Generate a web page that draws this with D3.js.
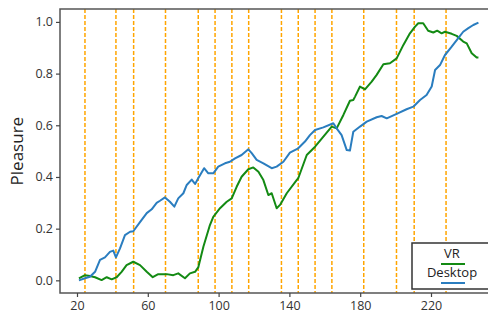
<!DOCTYPE html>
<html>
<head>
<meta charset="utf-8">
<script src="https://cdn.jsdelivr.net/npm/d3@7"></script>
<style>
  body { margin: 0; background: #fff; }
  svg { display: block; font-family: "Open Sans", sans-serif; }
</style>
</head>
<body>
<div id="chart"></div>
<script>
"use strict";

// values
const desktopX = [21.1, 24.5, 27.3, 30.2, 33, 35.8, 38.6, 40.5, 42, 44.3, 47.1, 50, 51.8, 55.8, 59.4, 62.2, 65, 66.9, 69.7, 72.5, 75, 77.2, 80.1, 82, 84.8, 86.7, 88.5, 91.8, 94.2, 97, 99.8, 103.6, 106.4, 109.3, 113, 116.8, 118.7, 121.5, 125.3, 130, 132.8, 136.6, 140.3, 145, 148.8, 151.6, 154.5, 159.2, 164.8, 166.7, 169.5, 172.4, 174.2, 176.1, 179.9, 183.7, 189.3, 192.1, 195, 200.6, 206.2, 210, 213.8, 217.5, 220.4, 222.3, 225.1, 227.9, 231.7, 235.4, 238.2, 241.1, 243.9, 246.8];
const desktopY = [0.0, 0.008, 0.014, 0.033, 0.079, 0.089, 0.11, 0.115, 0.089, 0.124, 0.175, 0.188, 0.19, 0.227, 0.26, 0.275, 0.30, 0.308, 0.321, 0.304, 0.285, 0.317, 0.337, 0.369, 0.39, 0.373, 0.395, 0.434, 0.414, 0.414, 0.44, 0.453, 0.459, 0.472, 0.485, 0.507, 0.492, 0.466, 0.453, 0.434, 0.44, 0.459, 0.494, 0.511, 0.537, 0.562, 0.582, 0.592, 0.608, 0.588, 0.562, 0.504, 0.502, 0.575, 0.595, 0.614, 0.631, 0.636, 0.627, 0.644, 0.662, 0.672, 0.698, 0.717, 0.75, 0.814, 0.833, 0.872, 0.904, 0.937, 0.962, 0.976, 0.988, 0.997];

const vrX = [21.1, 24.5, 27.3, 30.2, 33.9, 36.8, 39.6, 42.4, 45.2, 48, 51.8, 55.6, 59.4, 62.8, 65.9, 70.7, 74.4, 77.2, 81, 83.8, 86.7, 88.5, 91.4, 95.1, 97, 100.8, 104.6, 107.4, 110.2, 113, 116.8, 119.6, 122.5, 125.3, 128.1, 130, 132.8, 134.7, 138.5, 144.1, 145, 149.8, 154.5, 159.2, 163.9, 166.7, 170.5, 174.2, 176.1, 177.1, 179.9, 182.7, 186.5, 189.3, 193.1, 196.8, 200.6, 204.4, 208.1, 211, 212.8, 215.6, 218.4, 221.3, 223.5, 226, 227.9, 231.7, 234.5, 238.2, 240.2, 243, 245.8, 246.8];
const vrY = [0.008, 0.02, 0.017, 0.012, 0.001, 0.012, 0.004, 0.012, 0.033, 0.059, 0.072, 0.059, 0.033, 0.012, 0.024, 0.024, 0.02, 0.027, 0.008, 0.027, 0.033, 0.05, 0.13, 0.214, 0.246, 0.279, 0.304, 0.317, 0.362, 0.401, 0.43, 0.437, 0.42, 0.388, 0.33, 0.337, 0.279, 0.292, 0.337, 0.388, 0.395, 0.485, 0.517, 0.556, 0.595, 0.588, 0.64, 0.695, 0.698, 0.711, 0.75, 0.739, 0.769, 0.795, 0.836, 0.84, 0.859, 0.911, 0.956, 0.982, 0.995, 0.995, 0.966, 0.959, 0.966, 0.956, 0.962, 0.954, 0.946, 0.924, 0.917, 0.879, 0.862, 0.862];

const eventX = [24.5, 42, 52, 70, 88.5, 98, 107.5, 117, 135.5, 145, 154.5, 164, 182, 200.5, 210.5, 228.5];

const xTicks = [20, 60, 100, 140, 180, 220];
const yTicks = [0.0, 0.2, 0.4, 0.6, 0.8, 1.0];

const seriesNames = ["VR", "Desktop"];
const seriesColors = ["#138a13", "#2a7dbf"];

const width = 488, height = 313;
const margin = { left: 60, top: 9, right: -6, bottom: 20 };
const plotW = width - margin.left - margin.right;
const plotH = height - margin.top - margin.bottom;

const svg = d3.select("#chart").append("svg")
    .attr("width", width)
    .attr("height", height);

// axes scales, pixel fit: 20 -> 77, 220 -> 431
const x = d3.scaleLinear()
    .domain([20 + (margin.left - 77) / 1.77, 20 + (margin.left + plotW - 77) / 1.77])
    .range([margin.left, margin.left + plotW]);
const y = d3.scaleLinear()
    .domain([-0.049, 1.05])
    .range([margin.top + plotH, margin.top]);

const g = svg.append("g");

// event lines
g.selectAll("line.event")
    .data(eventX)
    .enter()
    .append("line")
    .attr("class", "event")
    .attr("x1", d => x(d)).attr("x2", d => x(d))
    .attr("y1", margin.top).attr("y2", margin.top + plotH)
    .style("stroke", "#ffa500")
    .style("stroke-width", 1.5)
    .style("stroke-dasharray", "4,2");

const line = d3.line().x(d => x(d[0])).y(d => y(d[1]));

const series = [
    d3.zip(vrX, vrY),
    d3.zip(desktopX, desktopY)
];

g.selectAll("path.series")
    .data(series)
    .enter()
    .append("path")
    .attr("class", "series")
    .attr("d", line)
    .style("fill", "none")
    .style("stroke", (d, i) => seriesColors[i])
    .style("stroke-width", 2)
    .style("stroke-linejoin", "round");

// frame
svg.append("rect")
    .attr("x", margin.left)
    .attr("y", margin.top)
    .attr("width", plotW)
    .attr("height", plotH)
    .style("fill", "none")
    .style("stroke", "#555")
    .style("stroke-width", 1.5);

const xAxis = svg.append("g")
    .attr("transform", "translate(0," + (margin.top + plotH) + ")")
    .call(d3.axisBottom(x).tickValues(xTicks).tickSize(4).tickPadding(4));
const yAxis = svg.append("g")
    .attr("transform", "translate(" + margin.left + ",0)")
    .call(d3.axisLeft(y).tickValues(yTicks).tickFormat(d3.format(".1f")).tickSize(4).tickPadding(3));

[xAxis, yAxis].forEach(a => {
    a.select(".domain").remove();
    a.selectAll(".tick line").style("stroke", "#444").style("stroke-width", 1.2);
    a.selectAll(".tick text")
        .style("font-family", "Open Sans, sans-serif")
        .style("font-size", "12.5px")
        .style("fill", "#333");
});

svg.append("text")
    .attr("transform", "translate(23," + y(0.5) + ") rotate(-90)")
    .attr("text-anchor", "middle")
    .style("font-size", "17px")
    .style("fill", "#222")
    .text("Pleasure");

// legend
const legend = svg.append("g").attr("transform", "translate(412,243)");
legend.append("rect")
    .attr("width", 82)
    .attr("height", 46)
    .style("fill", "#fff")
    .style("stroke", "#333")
    .style("stroke-width", 1.5);
const items = legend.selectAll("g.item")
    .data(seriesNames)
    .enter()
    .append("g")
    .attr("transform", (d, i) => "translate(40," + (i * 19) + ")");
items.append("text")
    .attr("y", 15)
    .attr("text-anchor", "middle")
    .style("font-size", "13px")
    .style("fill", "#222")
    .text(d => d);
items.append("line")
    .attr("x1", -11).attr("x2", 13)
    .attr("y1", 21).attr("y2", 21)
    .style("stroke", (d, i) => seriesColors[i])
    .style("stroke-width", 2);
</script>
</body>
</html>
